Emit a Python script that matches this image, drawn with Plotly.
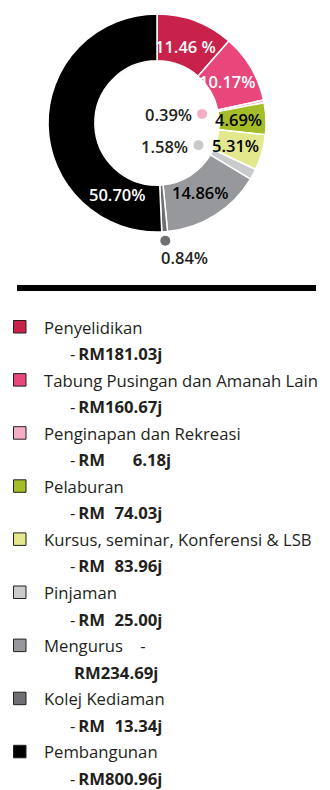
import math
import plotly.graph_objects as go

# Budget allocation (RM million)
categories = [
    "Penyelidikan",
    "Tabung Pusingan dan Amanah Lain",
    "Penginapan dan Rekreasi",
    "Pelaburan",
    "Kursus, seminar, Konferensi & LSB",
    "Pinjaman",
    "Mengurus",
    "Kolej Kediaman",
    "Pembangunan",
]
amounts = [181.03, 160.67, 6.18, 74.03, 83.96, 25.00, 234.69, 13.34, 800.96]

colors = ["#C8224A", "#E8477B", "#F5AFC5", "#A5BD28", "#E3E88C",
          "#C9CACC", "#97989B", "#6E6F72", "#000000"]
label_colors = ["white", "white", "black", "black", "black",
                "black", "black", "black", "white"]

W, H = 330, 790
CX, CY, R = 157, 123, 109          # donut centre / outer radius (px)
HOLE = 0.57

FONT = "Open Sans"
INK = "#231F20"


def px(x):
    return x / W


def py(y):
    return 1 - y / H


fig = go.Figure()
fig.add_trace(go.Pie(
    values=amounts,
    labels=categories,
    sort=False,
    direction="clockwise",
    rotation=0,
    hole=HOLE,
    textinfo="none",
    hoverinfo="label+value+percent",
    marker=dict(colors=colors, line=dict(color="white", width=1.5)),
    domain=dict(x=[px(CX - R), px(CX + R)], y=[py(CY + R), py(CY - R)]),
    showlegend=False,
))

total = sum(amounts)
pcts = [a / total * 100 for a in amounts]
cum = 0.0
mids = []
for p in pcts:
    mids.append(cum + p / 2)
    cum += p


def polar(frac_pct, r):
    ang = math.radians(frac_pct * 3.6)
    return CX + r * math.sin(ang), CY - r * math.cos(ang)


# label placement: ring labels, small slices flagged with a dot
label_angle_override = {8: 209 / 3.6}
small = {2: ("in", 46), 5: ("in", 47), 7: ("out", 118)}
pct_sep = {0: " "}

annotations = []
shapes = []
for i, p in enumerate(pcts):
    txt = f"{p:.2f}{pct_sep.get(i, '')}%"
    if i in small:
        side, r = small[i]
        dx, dy = polar(mids[i], r)
        shapes.append(dict(type="circle", xref="paper", yref="paper",
                           x0=px(dx - 5), x1=px(dx + 5),
                           y0=py(dy + 5), y1=py(dy - 5),
                           fillcolor=colors[i], line=dict(width=0)))
        if side == "in":
            annotations.append(dict(x=px(dx - 8), y=py(dy + 1), text=txt,
                                    xanchor="right", yanchor="middle"))
        else:
            annotations.append(dict(x=px(dx + 19), y=py(dy + 17), text=txt,
                                    xanchor="center", yanchor="middle"))
        annotations[-1]["font"] = dict(color=INK, size=16.5,
                                       family=FONT, weight=600)
    else:
        m = label_angle_override.get(i, mids[i])
        lx, ly = polar(m, 82)
        annotations.append(dict(x=px(lx), y=py(ly), text=txt,
                                xanchor="center", yanchor="middle",
                                font=dict(color=label_colors[i], size=16.5,
                                          family=FONT, weight=600)))

# divider bar
shapes.append(dict(type="rect", xref="paper", yref="paper",
                   x0=px(17), x1=px(316), y0=py(291), y1=py(285),
                   fillcolor="black", line=dict(width=0)))

# legend
top, step, sub = 327, 53.1, 26.5
dash_on_name = {6}
for i, (name, amt) in enumerate(zip(categories, amounts)):
    y = top + i * step
    shapes.append(dict(type="rect", xref="paper", yref="paper",
                       x0=px(13.5), x1=px(26), y0=py(y + 6), y1=py(y - 6.5),
                       fillcolor=colors[i], line=dict(color=INK, width=1)))
    digits = len(str(int(amt)))
    pad = "\u2007" * (3 - digits) + ("\u00a0\u00a0" if digits == 1 else "")
    value = f"<b>RM{pad}{amt:.2f}j</b>"
    if i in dash_on_name:
        name_txt = name + "\u00a0\u00a0\u00a0 -"
        value_txt = value
        vx = 72
    else:
        name_txt = name
        value_txt = "-\u2009" + value
        vx = 68
    annotations.append(dict(x=px(42), y=py(y), text=name_txt,
                            xanchor="left", yanchor="middle",
                            font=dict(color=INK, size=16.7, family=FONT)))
    annotations.append(dict(x=px(vx), y=py(y + sub), text=value_txt,
                            xanchor="left", yanchor="middle",
                            font=dict(color=INK, size=16.7, family=FONT)))

for a in annotations:
    a.update(xref="paper", yref="paper", showarrow=False)

fig.update_layout(
    width=W, height=H,
    margin=dict(l=0, r=0, t=0, b=0),
    paper_bgcolor="white", plot_bgcolor="white",
    annotations=annotations,
    shapes=shapes,
    font=dict(family=FONT),
)

fig.write_html("out.html", include_plotlyjs=True, full_html=True,
               config={"displayModeBar": False})
